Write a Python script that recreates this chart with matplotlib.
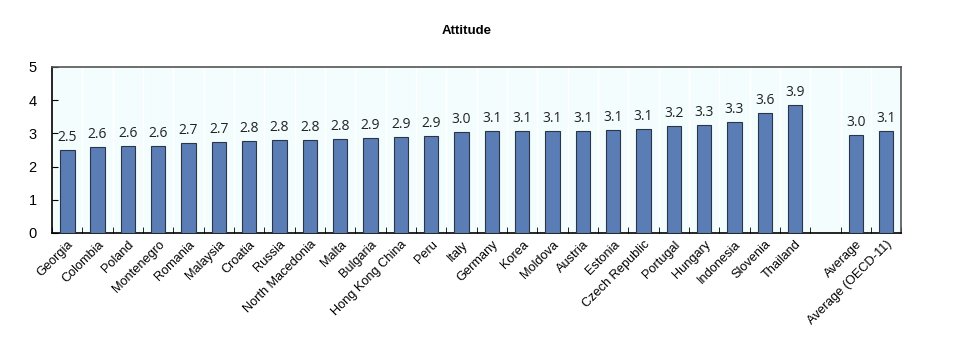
import numpy as np
import matplotlib.pyplot as plt

countries = ["Georgia", "Colombia", "Poland", "Montenegro", "Romania", "Malaysia",
             "Croatia", "Russia", "North Macedonia", "Malta", "Bulgaria",
             "Hong Kong China", "Peru", "Italy", "Germany", "Korea", "Moldova",
             "Austria", "Estonia", "Czech Republic", "Portugal", "Hungary",
             "Indonesia", "Slovenia", "Thailand"]
values = [2.50, 2.58, 2.61, 2.62, 2.72, 2.73, 2.76, 2.79, 2.79, 2.82, 2.86,
          2.89, 2.92, 3.03, 3.06, 3.06, 3.06, 3.08, 3.09, 3.13, 3.23, 3.26,
          3.34, 3.61, 3.86]
avg_labels = ["Average", "Average (OECD-11)"]
avg_values = [2.96, 3.08]

labels = countries + [""] + avg_labels
vals = values + [np.nan] + avg_values
x = np.arange(len(labels))

fig = plt.figure(figsize=(9.64, 3.44), dpi=100)
ax = fig.add_axes([0.054, 0.3227, 0.881, 0.4826])
ax.set_facecolor("#f3fdfd")

bars = ax.bar(x, vals, width=0.48, color="#5b7db6", edgecolor="#2b3548", linewidth=0.8, zorder=3)
for xi, v in zip(x, vals):
    if np.isnan(v):
        continue
    ax.text(xi, v + 0.15, f"{v:.1f}", ha="center", va="bottom", fontsize=10,
            family="Open Sans", color="#222222")

ax.set_xlim(-0.5, len(labels) - 0.5)
ax.set_ylim(0, 5)
ax.set_yticks(range(6))
ax.tick_params(axis="y", direction="in", length=4, labelsize=10.5, pad=11)

ax.set_xticks(x)
ax.set_xticklabels(labels, rotation=45, ha="right", rotation_mode="anchor",
                   fontsize=9.2, family="Liberation Sans")
ax.tick_params(axis="x", length=0, pad=4)
ax.set_xticks(np.arange(len(labels) + 1) - 0.5, minor=True)
ax.tick_params(axis="x", which="minor", direction="in", length=4)
ax.grid(axis="x", which="minor", color="white", linewidth=1, zorder=0)

for side in ["left", "bottom"]:
    ax.spines[side].set_color("black")
    ax.spines[side].set_linewidth(1.2)
for side in ["top", "right"]:
    ax.spines[side].set_color("#555555")
    ax.spines[side].set_linewidth(1.2)

for lab in ax.get_yticklabels():
    lab.set_family("Liberation Sans")

fig.text(0.484, 0.91, "Attitude", ha="center", va="center", fontsize=9.5,
         fontweight="bold", family="Liberation Sans")

fig.savefig("out.png", dpi=100)
